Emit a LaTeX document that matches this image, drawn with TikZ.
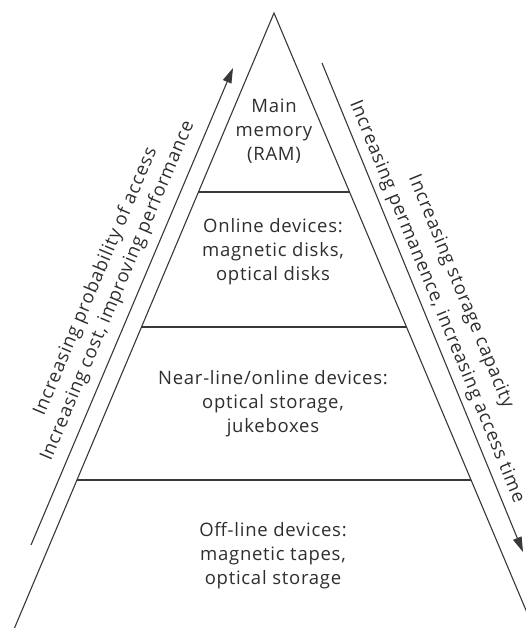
\documentclass[tikz,border=0pt]{standalone}
\usepackage{fontspec}
\setmainfont{Open Sans}[LetterSpace=4]
\usetikzlibrary{arrows.meta,calc}
\begin{document}
\begin{tikzpicture}[x=1pt,y=-1pt,
  edge/.style={draw=black!78, line width=1.1pt},
  lbl/.style={align=center, font=\fontsize{18.5}{24}\selectfont, text=black!82, inner sep=0pt},
  lbll/.style={lbl, font=\fontsize{18.5}{24}\selectfont},
  lblr/.style={lbl, font=\fontsize{18.5}{26}\selectfont},
  tip/.style={-{Triangle[length=15pt,width=9pt]}}]
\useasboundingbox (0,0) rectangle (526,628);
\begin{scope}
\clip (0,0) rectangle (526,628);
\coordinate (apex) at (274,13);
\coordinate (bl) at (14.5,628);
\coordinate (br) at (533.5,628);
\draw[edge] (bl) -- (apex) -- (br);
\draw[edge] ($(apex)!0.2911!(bl)$) -- ($(apex)!0.2911!(br)$);
\draw[edge] ($(apex)!0.5106!(bl)$) -- ($(apex)!0.5106!(br)$);
\draw[edge] ($(apex)!0.7593!(bl)$) -- ($(apex)!0.7593!(br)$);
\end{scope}
% arrows
\coordinate (la1) at (31,545);
\coordinate (la2) at (233,68);
\coordinate (ra1) at (322,63);
\coordinate (ra2) at (523,552);
\draw[edge,tip] (la1) -- (la2);
\draw[edge,tip] (ra1) -- (ra2);
% level labels
\node[lbl] (main) at (274,131) {Main\\memory\\(RAM)};
\node[lbl] (online) at (273,252) {Online devices:\\magnetic disks,\\optical disks};
\node[lbl] (near) at (273,404) {Near-line/online devices:\\optical storage,\\jukeboxes};
\node[lbl] (off) at (273,556) {Off-line devices:\\magnetic tapes,\\optical storage};
% side labels
\coordinate (lm) at ($(la1)!0.517!(la2)$);
\coordinate (rm) at ($(ra1)!0.5!(ra2)$);
\node[lbll, rotate=67.05] (ltext) at ($(lm)!31pt!90:(la2)$) {Increasing probability of access\\Increasing cost, improving performance};
\node[lblr, rotate=-67.65] (rtext) at ($(rm)!28pt!90:(ra2)$) {Increasing storage capacity\\Increasing permanence, increasing access time};
\end{tikzpicture}
\end{document}
